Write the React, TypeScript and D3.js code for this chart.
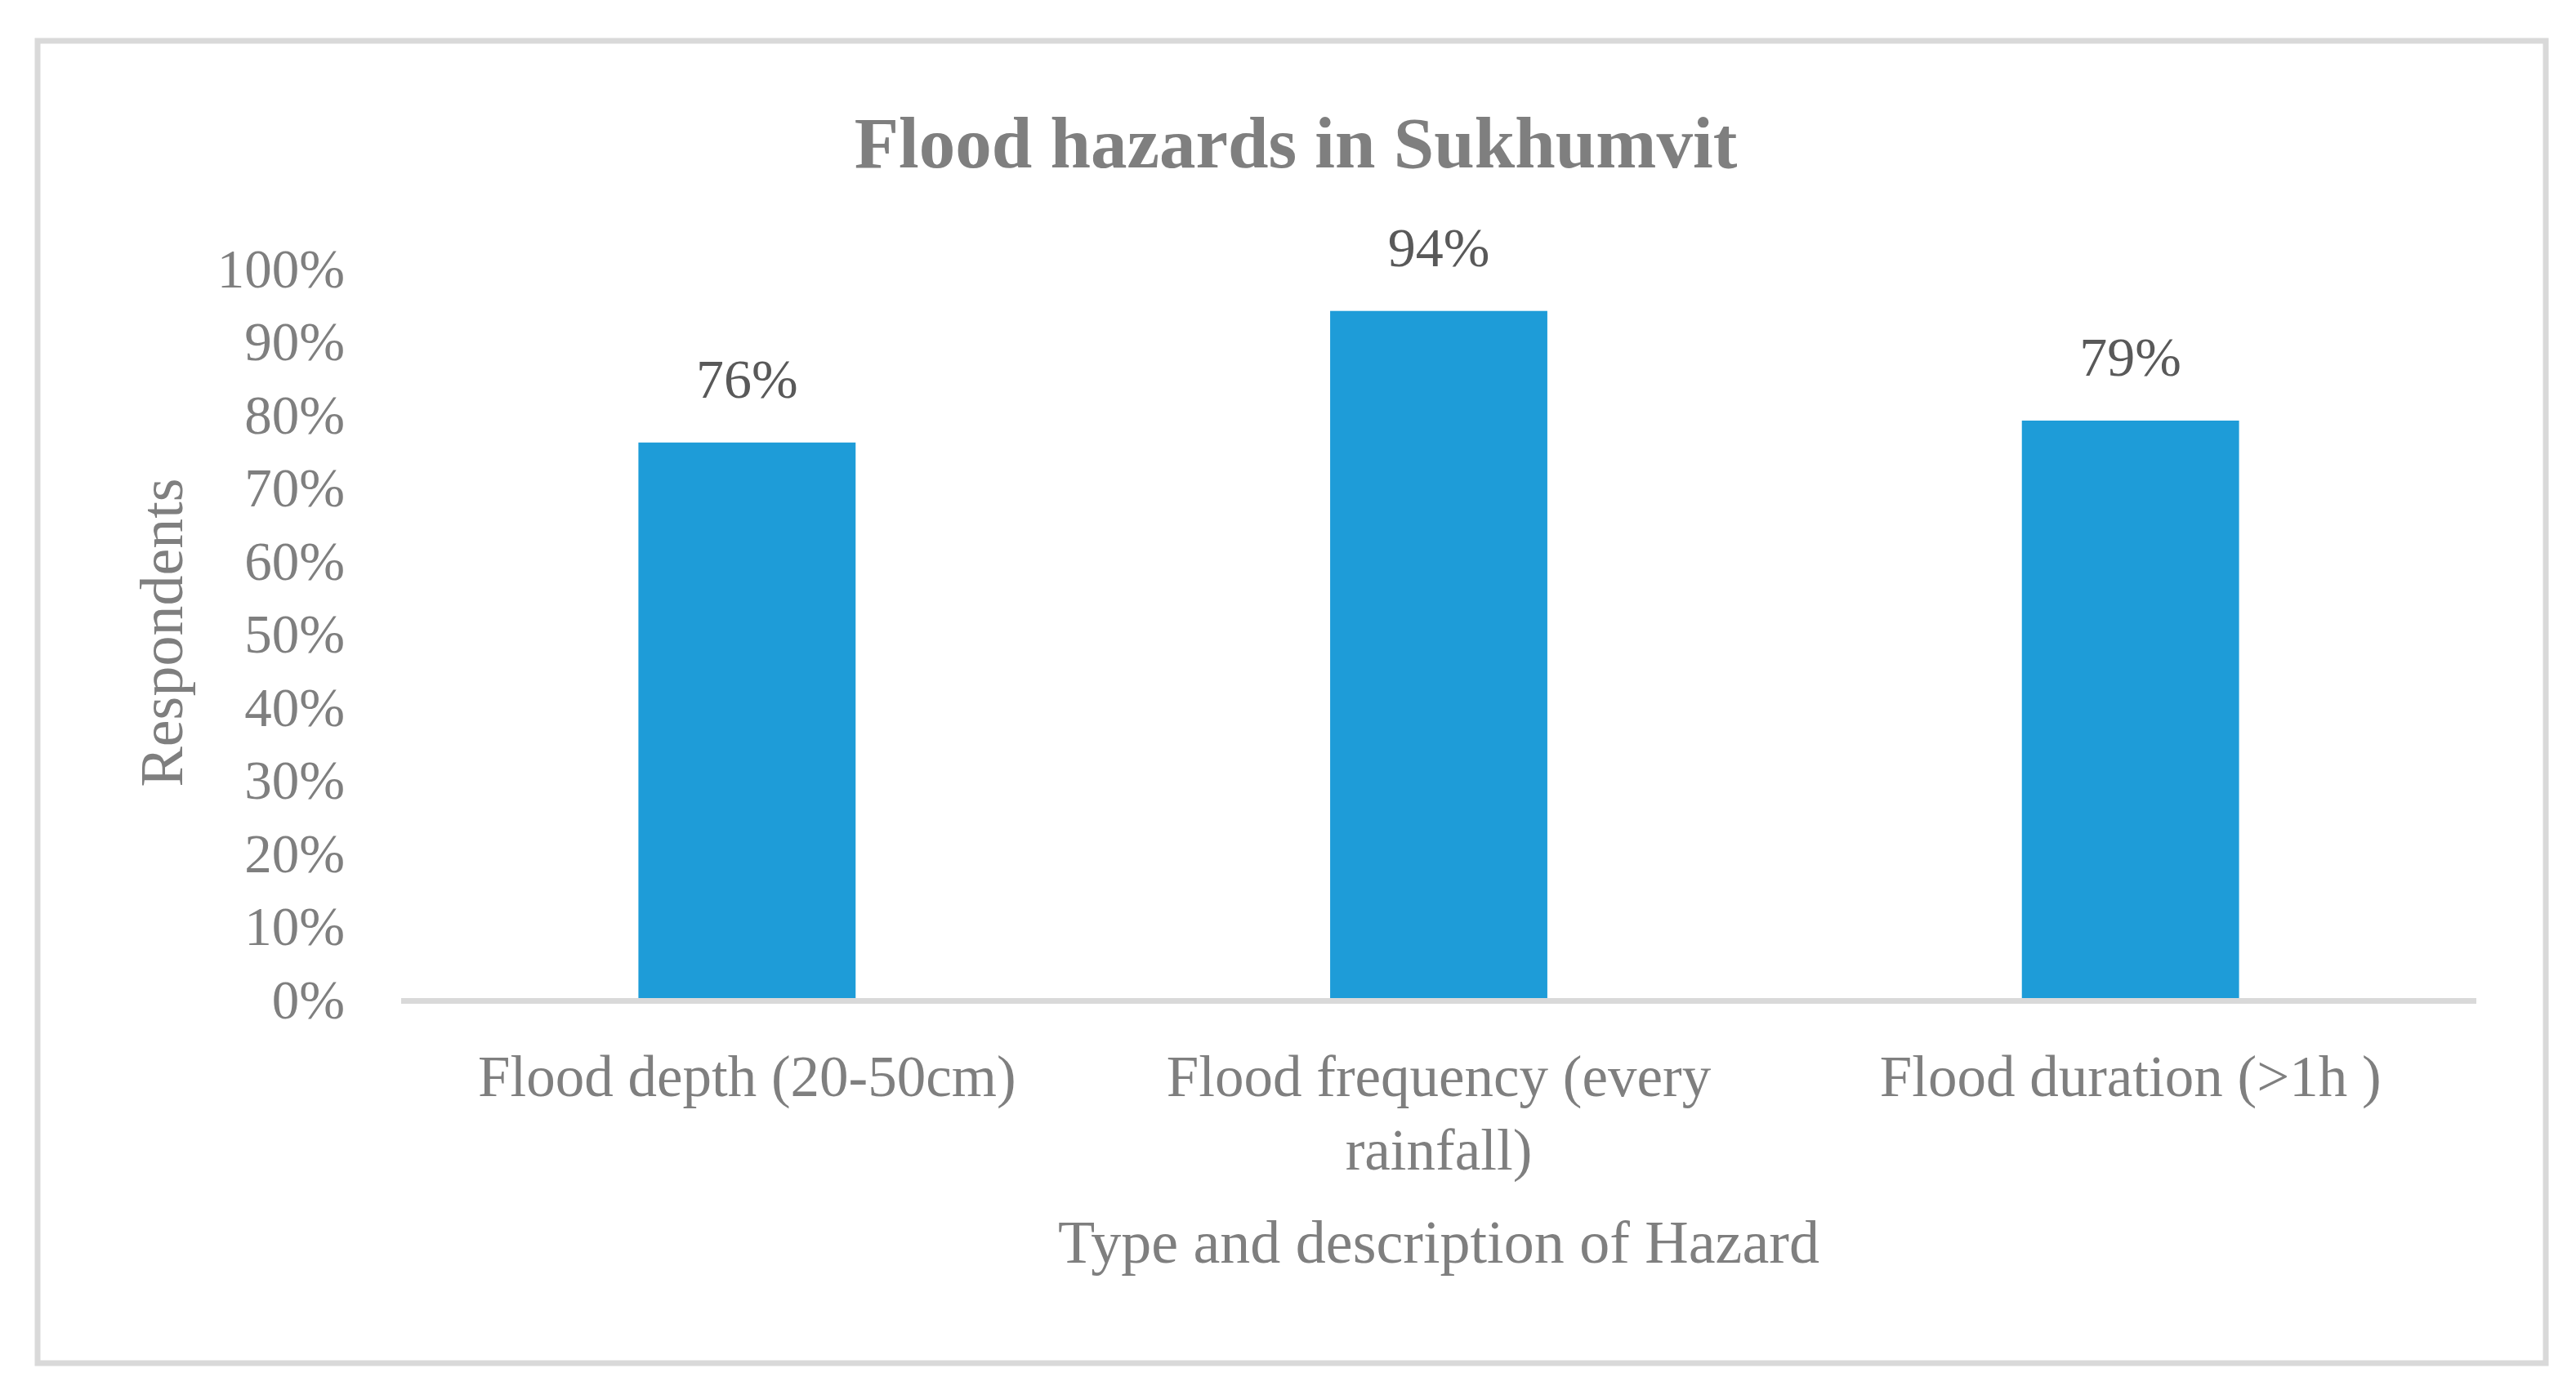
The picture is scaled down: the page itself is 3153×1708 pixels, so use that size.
import { useRef, useEffect } from 'react';
import * as d3 from 'd3';

const categories = ['Flood depth (20-50cm)', 'Flood frequency (every rainfall)', 'Flood duration (>1h )'];
const values = [0.76, 0.94, 0.79];
const yTicks = [0, 0.1, 0.2, 0.3, 0.4, 0.5, 0.6, 0.7, 0.8, 0.9, 1.0];

const title = 'Flood hazards in Sukhumvit';
const xTitle = 'Type and description of Hazard';
const yTitle = 'Respondents';

// wrap a text node into tspans so each line fits in `width`
function wrap(sel: any, width: number, lineH: number) {
  sel.each(function (this: SVGTextElement) {
    const text = d3.select(this);
    const words = text.text().split(/\s+/);
    const x = text.attr('x');
    text.text(null);
    let line: string[] = [];
    let tspan = text.append('tspan').attr('x', x).attr('dy', 0);
    for (const w of words) {
      line.push(w);
      tspan.text(line.join(' '));
      if ((tspan.node() as SVGTextContentElement).getComputedTextLength() > width && line.length > 1) {
        line.pop();
        tspan.text(line.join(' '));
        line = [w];
        tspan = text.append('tspan').attr('x', x).attr('dy', lineH).text(w);
      }
    }
  });
}

export default function App() {
  const ref = useRef<SVGSVGElement>(null);

  useEffect(() => {
    const W = 3153, H = 1708;
    const font = '"Liberation Serif", "Times New Roman", serif';
    const svg = d3.select(ref.current)
      .attr('width', W).attr('height', H)
      .style('font-family', font);
    svg.selectAll('*').remove();

    svg.append('rect')
      .attr('width', W).attr('height', H).attr('fill', '#fff');

    // chart frame
    svg.append('rect')
      .attr('x', 46).attr('y', 50)
      .attr('width', 3070).attr('height', 1619)
      .attr('fill', 'none')
      .attr('stroke', '#d9d9d9')
      .attr('stroke-width', 7);

    const left = 491, right = 3031, top = 327, bottom = 1222;

    const x = d3.scaleBand<string>()
      .domain(categories)
      .range([left, right])
      .paddingInner(0.686)
      .paddingOuter(0.343);

    const y = d3.scaleLinear()
      .domain([0, 1])
      .range([bottom, top]);

    // y tick labels
    svg.append('g')
      .selectAll('text')
      .data(yTicks)
      .join('text')
      .attr('x', 422)
      .attr('y', d => y(d))
      .attr('dy', '0.37em')
      .attr('text-anchor', 'end')
      .attr('font-size', 67)
      .attr('fill', '#7f7f7f')
      .text(d => d3.format('.0%')(d));

    // bars
    svg.append('g')
      .selectAll('rect')
      .data(values)
      .join('rect')
      .attr('x', (d, i) => x(categories[i])!)
      .attr('y', d => y(d))
      .attr('width', x.bandwidth())
      .attr('height', d => bottom - y(d))
      .attr('fill', '#1e9cd8');

    // value labels
    svg.append('g')
      .selectAll('text')
      .data(values)
      .join('text')
      .attr('x', (d, i) => x(categories[i])! + x.bandwidth() / 2)
      .attr('y', d => y(d) - 55)
      .attr('text-anchor', 'middle')
      .attr('font-size', 68)
      .attr('fill', '#595959')
      .text(d => d3.format('.0%')(d));

    // axis line
    svg.append('line')
      .attr('x1', left).attr('x2', right)
      .attr('y1', bottom + 3.5).attr('y2', bottom + 3.5)
      .attr('stroke', '#d9d9d9')
      .attr('stroke-width', 7);

    // category labels
    const step = x.step();
    svg.append('g')
      .selectAll('text')
      .data(categories)
      .join('text')
      .attr('x', d => x(d)! + x.bandwidth() / 2)
      .attr('y', 1342)
      .attr('text-anchor', 'middle')
      .attr('font-size', 71)
      .attr('fill', '#7f7f7f')
      .text(d => d)
      .call(wrap, step - 60, 90);

    // title
    svg.append('text')
      .attr('x', 1586).attr('y', 205)
      .attr('text-anchor', 'middle')
      .attr('font-size', 89)
      .attr('font-weight', 700)
      .attr('fill', '#7f7f7f')
      .text(title);

    // axis titles
    svg.append('text')
      .attr('x', (left + right) / 2).attr('y', 1546)
      .attr('text-anchor', 'middle')
      .attr('font-size', 74)
      .attr('fill', '#7f7f7f')
      .text(xTitle);

    svg.append('text')
      .attr('transform', `translate(223,${(top + bottom) / 2}) rotate(-90)`)
      .attr('text-anchor', 'middle')
      .attr('font-size', 74)
      .attr('fill', '#7f7f7f')
      .text(yTitle);
  }, []);

  return <svg ref={ref} style={{ position: 'absolute', left: 0, top: 0 }}></svg>;
}
